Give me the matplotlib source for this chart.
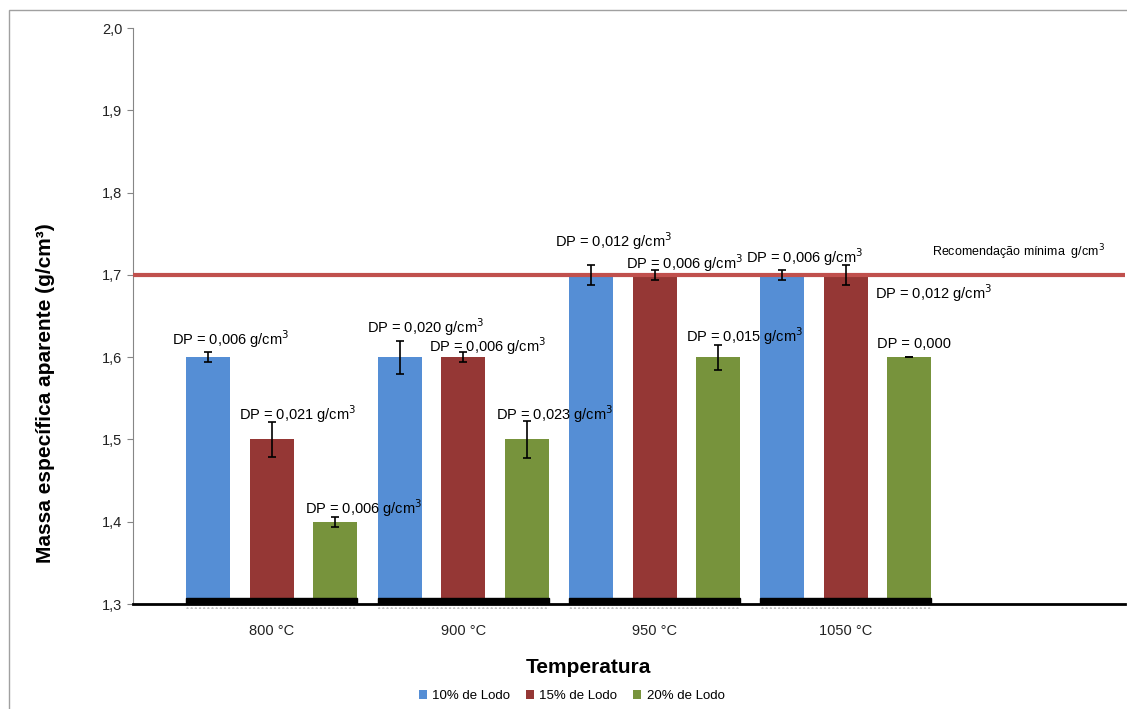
# Massa especifica aparente vs temperatura de queima
import numpy as np
import matplotlib.pyplot as plt
from matplotlib.patches import Rectangle

plt.rcParams['font.family'] = ['Liberation Sans', 'DejaVu Sans']

# Data ........................................................................
temperaturas = ["800 °C", "900 °C", "950 °C", "1050 °C"]
series = ["10% de Lodo", "15% de Lodo", "20% de Lodo"]
lodo_10 = [1.6, 1.6, 1.7, 1.7]
lodo_15 = [1.5, 1.6, 1.7, 1.7]
lodo_20 = [1.4, 1.5, 1.6, 1.6]
dp_10 = [0.006, 0.020, 0.012, 0.006]
dp_15 = [0.021, 0.006, 0.006, 0.012]
dp_20 = [0.006, 0.023, 0.015, 0.000]
recomendacao = 1.7

valores = [lodo_10, lodo_15, lodo_20]
desvios = [dp_10, dp_15, dp_20]
cores = ["#558ED5", "#953735", "#77933C"]

# Label placement (offsets from bar centre / error bar top)
label_dx = [[-0.19, -0.17, -0.19, -0.19],
            [-0.17, -0.18, -0.15, 0.15],
            [-0.16, -0.16, -0.17, -0.17]]
label_dy = [[0.016, 0.017, 0.029, 0.016],
            [0.010, 0.008, 0.008, -0.034],
            [0.011, 0.008, 0.011, 0.016]]

# Figure ......................................................................
fig = plt.figure(figsize=(11.27, 7.09), dpi=100)
ax = fig.add_axes([0.118, 0.148, 0.880, 0.8125])

x = np.arange(len(temperaturas))
offset = 0.332
width = 0.23

for i in range(3):
    pos = x + (i - 1) * offset
    ax.bar(pos, np.array(valores[i]) - 1.3, bottom=1.3, width=width,
           color=cores[i], label=series[i], zorder=2)
    ax.errorbar(pos, valores[i], yerr=desvios[i], fmt="none", ecolor="black",
                elinewidth=1.2, capsize=3, capthick=1.2, zorder=4)
    for j in range(len(x)):
        top = valores[i][j] + desvios[i][j] + label_dy[i][j]
        if desvios[i][j] > 0:
            txt = "DP = %s g/cm$^3$" % ("%.3f" % desvios[i][j]).replace(".", ",")
        else:
            txt = "DP = %s" % ("%.3f" % desvios[i][j]).replace(".", ",")
        ax.text(pos[j] + label_dx[i][j], top, txt, fontsize=10.5,
                ha="left", va="center", zorder=5)

# Black strip at base of each group plus dotted shadow
for j in range(len(x)):
    left = x[j] - offset - width / 2
    w = 2 * offset + width
    ax.add_patch(Rectangle((left, 1.3), w, 0.0075, color="black", zorder=3))
    ax.add_patch(Rectangle((left, 1.3 - 0.0065), w, 0.004, facecolor="white",
                           edgecolor="#bbbbbb", hatch="....", lw=0,
                           clip_on=False, zorder=3))

# Recommended minimum line
ax.axhline(recomendacao, color="#C0504D", lw=3, zorder=3)
ax.text(3.45, recomendacao + 0.027, "Recomendação mínima  g/cm$^3$",
        fontsize=9, ha="left", va="center")

ax.set_xlim(-0.726, 4.457)
ax.set_ylim(1.3, 2.0)
ax.set_xticks(x)
ax.set_xticklabels(temperaturas, fontsize=10.5, color="#222222")
ax.tick_params(axis="x", length=0, pad=14)
yt = np.arange(1.3, 2.01, 0.1)
ax.set_yticks(yt)
ax.set_yticklabels([("%.1f" % v).replace(".", ",") for v in yt], fontsize=10.5,
                   color="#222222")
ax.tick_params(axis="y", length=4, color="#868686")

for s in ["top", "right"]:
    ax.spines[s].set_visible(False)
ax.spines["left"].set_color("#868686")
ax.spines["bottom"].set_color("black")
ax.spines["bottom"].set_linewidth(2)
ax.spines["bottom"].set_zorder(4)

ax.set_ylabel("Massa específica aparente (g/cm³)", fontsize=15,
              fontweight="bold")
ax.yaxis.set_label_coords(-0.0786, 0.366)
fig.text(0.522, 0.058, "Temperatura", fontsize=15, fontweight="bold",
         ha="center", va="center")

ax.legend(loc="center", bbox_to_anchor=(0.4425, -0.16), ncol=3, frameon=False,
          fontsize=9.5, handlelength=0.6, handleheight=0.6, columnspacing=1.2,
          handletextpad=0.4)

# Outer chart frame
fig.patches.append(Rectangle((9 / 1127, -0.1), 1.2, 1 - 10 / 709 + 0.1,
                             transform=fig.transFigure, fill=False,
                             edgecolor="#a0a0a0", lw=1))

fig.savefig("out.png", dpi=100)
